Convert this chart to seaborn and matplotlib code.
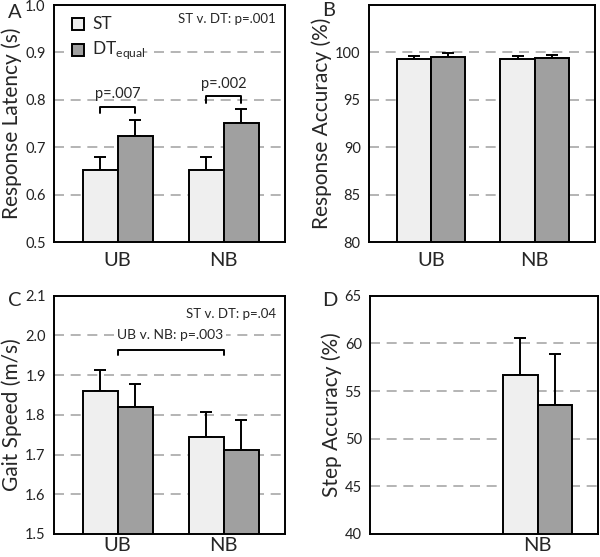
import numpy as np
import pandas as pd
import matplotlib
matplotlib.use('Agg')
import matplotlib.pyplot as plt
from matplotlib.patches import Rectangle
import seaborn as sns

sns.set_style('white')
plt.rcParams['font.family'] = ['Lato', 'DejaVu Sans']

groups = ['UB', 'NB']
tasks = ['ST', 'DT']

# panel A: response latency (s)
lat_st = [0.652, 0.652]
lat_dt = [0.724, 0.751]
lat_st_err = [0.027, 0.028]
lat_dt_err = [0.033, 0.029]

# panel B: response accuracy (%)
acc_st = [99.26, 99.26]
acc_dt = [99.47, 99.37]
acc_st_err = [0.34, 0.34]
acc_dt_err = [0.42, 0.35]

# panel C: gait speed (m/s)
gait_st = [1.861, 1.744]
gait_dt = [1.819, 1.712]
gait_st_err = [0.053, 0.064]
gait_dt_err = [0.058, 0.074]

# panel D: step accuracy (%), NB only
step_groups = ['NB']
step_st = [56.65]
step_dt = [53.53]
step_st_err = [3.93]
step_dt_err = [5.40]

colors = {'ST': '#efefef', 'DT': '#a0a0a0'}
grid_c = '#a8a8a8'


def make_df(grp, st, dt, st_err, dt_err):
    return pd.DataFrame({
        'group': list(grp) * 2,
        'task': ['ST'] * len(grp) + ['DT'] * len(grp),
        'value': list(st) + list(dt),
        'err': list(st_err) + list(dt_err),
    })


def draw_panel(ax, df, ylim, yticks, ylabel, fmt, xlabels, xpad=7):
    ax.set_axisbelow(True)
    for t in yticks[1:-1]:
        if t < ylim[1]:
            ax.axhline(t, color=grid_c, lw=1.2, ls=(0, (6, 4)), zorder=0)
    sns.barplot(data=df, x='group', y='value', hue='task', order=groups,
                hue_order=tasks, palette=colors, edgecolor='black',
                linewidth=1.4, width=0.66, gap=0, errorbar=None,
                legend=False, ax=ax, zorder=2)
    # upward-only error bars placed on the bar centres
    for p in ax.patches:
        if p.get_height() <= 0 or p.get_width() <= 0:
            continue
        xc = p.get_x() + p.get_width() / 2
        top = p.get_y() + p.get_height()
        row = df[np.isclose(df['value'], top)]
        if len(row) == 0:
            continue
        e = row['err'].iloc[0]
        ax.errorbar(xc, top, yerr=[[0], [e]], fmt='none', ecolor='black',
                    elinewidth=1.4, capsize=4, capthick=1.4, zorder=1)
    ax.set_ylim(*ylim)
    ax.set_xlim(-0.6, 1.58)
    ax.set_yticks(yticks)
    ax.set_yticklabels([fmt.format(t) for t in yticks], fontsize=10.5, color='#222222')
    ax.set_xticks([0, 1])
    ax.set_xticklabels(xlabels, fontsize=14.5)
    ax.tick_params(axis='y', length=0, pad=6)
    ax.tick_params(axis='x', length=0, pad=xpad)
    ax.set_xlabel('')
    ax.set_ylabel(ylabel, fontsize=15, labelpad=2)
    for s in ax.spines.values():
        s.set_visible(True)
        s.set_color('black')
        s.set_linewidth(1.4)


fig = plt.figure(figsize=(6, 5.57), dpi=100)
axA = fig.add_axes([0.09, 0.5655, 0.385, 0.4255])
axB = fig.add_axes([0.615, 0.5655, 0.376, 0.4255])
axC = fig.add_axes([0.09, 0.0413, 0.385, 0.4278])
axD = fig.add_axes([0.617, 0.0413, 0.380, 0.4278])

# A
dfA = make_df(groups, lat_st, lat_dt, lat_st_err, lat_dt_err)
draw_panel(axA, dfA, (0.5, 1.0), [0.5, 0.6, 0.7, 0.8, 0.9, 1.0],
           'Response Latency (s)', '{:.1f}', groups)
bw = 0.33
for i, (y0, ptxt) in enumerate([(0.772, 'p=.007'), (0.794, 'p=.002')]):
    x1, x2 = i - bw / 2, i + bw / 2
    h = 0.013
    axA.plot([x1, x1, x2, x2], [y0, y0 + h, y0 + h, y0], color='black', lw=1.4, zorder=3)
    axA.text(i, y0 + h + 0.012, ptxt, ha='center', va='bottom', fontsize=10.5)
axA.text(0.96, 0.94, 'ST v. DT: p=.001', transform=axA.transAxes,
         ha='right', va='center', fontsize=9.5)
# legend
axA.add_patch(Rectangle((0.06, 0.76), 0.33, 0.22, transform=axA.transAxes,
                        facecolor='white', edgecolor='none', zorder=1))
axA.add_patch(Rectangle((0.078, 0.895), 0.052, 0.05, transform=axA.transAxes,
                        facecolor=colors['ST'], edgecolor='black', lw=1.4, zorder=4))
axA.add_patch(Rectangle((0.078, 0.785), 0.052, 0.05, transform=axA.transAxes,
                        facecolor=colors['DT'], edgecolor='black', lw=1.4, zorder=4))
axA.text(0.165, 0.92, 'ST', transform=axA.transAxes, va='center', fontsize=12.5, zorder=5)
axA.text(0.165, 0.81, r'DT$_{\mathregular{equal}}$', transform=axA.transAxes,
         va='center', fontsize=12.5, zorder=5)

# B
dfB = make_df(groups, acc_st, acc_dt, acc_st_err, acc_dt_err)
draw_panel(axB, dfB, (80, 105), [80, 85, 90, 95, 100, 105],
           'Response Accuracy (%)', '{:.0f}', groups)
axB.set_yticks([80, 85, 90, 95, 100])
axB.set_yticklabels(['80', '85', '90', '95', '100'], fontsize=10.5, color='#222222')

# C
dfC = make_df(groups, gait_st, gait_dt, gait_st_err, gait_dt_err)
draw_panel(axC, dfC, (1.5, 2.1), [1.5, 1.6, 1.7, 1.8, 1.9, 2.0, 2.1],
           'Gait Speed (m/s)', '{:.1f}', groups, xpad=2)
axC.plot([0, 0, 1, 1], [1.951, 1.964, 1.964, 1.951], color='black', lw=1.4, zorder=3)
axC.text(0.5, 2.0, 'UB v. NB: p=.003', ha='center', va='center', fontsize=10,
         bbox=dict(facecolor='white', edgecolor='none', pad=2), zorder=3)
axC.text(0.96, 0.925, 'ST v. DT: p=.04', transform=axC.transAxes,
         ha='right', va='center', fontsize=9.5)

# D
dfD = make_df(step_groups, step_st, step_dt, step_st_err, step_dt_err)
draw_panel(axD, dfD, (40, 65), [40, 45, 50, 55, 60, 65],
           'Step Accuracy (%)', '{:.0f}', ['', 'NB'], xpad=2)

# panel letters
for lx, ly, letter in [(8, 12, 'A'), (322, 10, 'B'), (8, 300, 'C'), (322, 300, 'D')]:
    fig.text(lx / 600, 1 - ly / 557, letter, fontsize=14.5, ha='left', va='center')

fig.savefig('out.png', dpi=100)
